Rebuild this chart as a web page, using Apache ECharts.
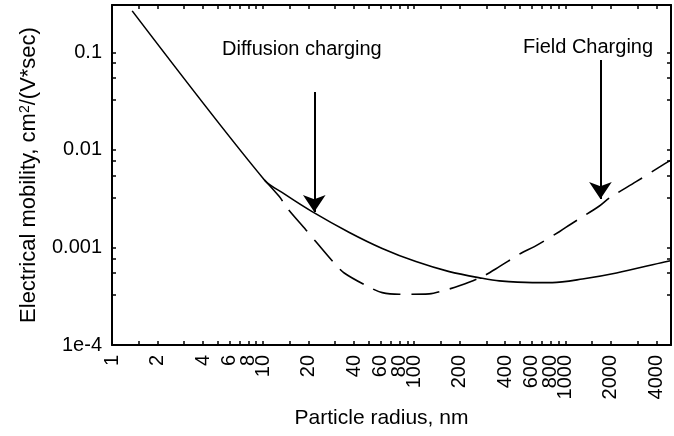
<!DOCTYPE html>
<html>
<head>
<meta charset="utf-8">
<script src="https://cdn.jsdelivr.net/npm/echarts@6/dist/echarts.min.js"></script>
<style>
html, body { margin: 0; padding: 0; background: #fff; }
#chart { width: 674px; height: 436px; }
</style>
</head>
<body>
<div id="chart"></div>
<script>
// values: particle radius in nm, mobility in cm2/(V*sec)
var diffRadius = [1.36, 10.2, 13.8, 21.1, 37.2, 61.4, 102.6, 170.6, 281.8, 365.6, 604, 820, 1297, 2178, 4529, 4960];
var diffMobility = [0.266, 0.00492, 0.00354, 0.00233, 0.001425, 0.000977, 0.000716, 0.000565, 0.000483, 0.000454, 0.000436, 0.000436, 0.000475, 0.000548, 0.00071, 0.00073];

var fieldRadius = [10.2, 12.8, 14.4, 19.2, 22.3, 29.5, 34.4, 50.4, 61.4, 79.6, 125.6, 162, 198.6, 281.8, 365.6, 509, 624, 912, 1091, 1679, 1954, 2938, 4529, 4960];
var fieldMobility = [0.00492, 0.00332, 0.00254, 0.00151, 0.00115, 0.000693, 0.000547, 0.000391, 0.000344, 0.000331, 0.000334, 0.000367, 0.000404, 0.000502, 0.000635, 0.000873, 0.00102, 0.00145, 0.00174, 0.00266, 0.00321, 0.00472, 0.00718, 0.0078];

// arrows: [radius, mobility at tail, mobility at tip]
var diffArrow = [21.8, 0.0392, 0.00231];
var fieldArrow = [1706, 0.0833, 0.00314];

var xRange = [1, 5000];
var yRange = [1e-4, 0.3055];
var xLabelValues = [1, 2, 4, 6, 8, 10, 20, 40, 60, 80, 100, 200, 400, 600, 800, 1000, 2000, 4000];
var xTickSteps = [1, 1.5, 2, 3, 4, 5, 6, 7, 8, 9];
var yLabelValues = [1e-4, 0.001, 0.01, 0.1];
var yLabelTexts = ['1e-4', '0.001', '0.01', '0.1'];
var yTickSteps = [1, 0.773, 0.545, 0.324];

var lg = Math.log10;
var font = 'Arial, "Liberation Sans", sans-serif';

var xTicks = [];
[1, 10, 100, 1000].forEach(function (d) {
    xTickSteps.forEach(function (s) { if (s * d <= 4000) xTicks.push(lg(s * d)); });
});
var yTicks = [];
[0.1, 0.01, 0.001, 1e-4].forEach(function (d) {
    yTickSteps.forEach(function (s) { yTicks.push(lg(s * d)); });
});

function pairs(xs, ys) {
    return xs.map(function (x, i) { return [lg(x), lg(ys[i])]; });
}

function arrow(a) {
    return [[{ coord: [lg(a[0]), lg(a[1])] }, { coord: [lg(a[0]), lg(a[2])] }]];
}

function makeX(pos, show) {
    return {
        type: 'value', position: pos, min: lg(xRange[0]), max: lg(xRange[1]),
        splitLine: { show: false },
        axisLine: { show: true, onZero: false, lineStyle: { color: '#000', width: 2 } },
        axisTick: { show: true, inside: true, length: 4, customValues: xTicks, lineStyle: { color: '#000', width: 1.5 } },
        axisLabel: {
            show: show, customValues: xLabelValues.map(lg), rotate: 90, margin: 10,
            color: '#000', fontSize: 20, fontFamily: font,
            formatter: function (v) { return String(Math.round(Math.pow(10, v))); }
        }
    };
}

function makeY(pos, show) {
    return {
        type: 'value', position: pos, min: lg(yRange[0]), max: lg(yRange[1]),
        splitLine: { show: false },
        axisLine: { show: true, onZero: false, lineStyle: { color: '#000', width: 2 } },
        axisTick: { show: true, inside: true, length: 4, customValues: yTicks, lineStyle: { color: '#000', width: 1.5 } },
        axisLabel: {
            show: show, customValues: yLabelValues.map(lg), margin: 10,
            color: '#000', fontSize: 20, fontFamily: font,
            formatter: function (v) {
                var i = yLabelValues.map(lg).findIndex(function (t) { return Math.abs(t - v) < 1e-6; });
                return i >= 0 ? yLabelTexts[i] : '';
            }
        }
    };
}

var chart = echarts.init(document.getElementById('chart'));

var xBottom = makeX('bottom', true);
xBottom.name = 'Particle radius, nm';
xBottom.nameLocation = 'middle';
xBottom.nameGap = 47;
xBottom.nameTextStyle = { color: '#000', fontSize: 21, fontFamily: font, padding: [0, 20, 0, 0] };

var yLeft = makeY('left', true);
yLeft.name = '{t|Electrical mobility, cm}{s|2}{t|/(V*sec)}';
yLeft.nameLocation = 'middle';
yLeft.nameGap = 72;
yLeft.nameTextStyle = {
    color: '#000', fontFamily: font,
    rich: {
        t: { fontSize: 22, color: '#000', fontFamily: font },
        s: { fontSize: 14, color: '#000', fontFamily: font, verticalAlign: 'top' }
    }
};

var arrowLine = {
    silent: true,
    symbol: ['none', 'arrow'],
    symbolSize: 17,
    label: { show: false },
    emphasis: { disabled: true },
    lineStyle: { color: '#000', width: 2, type: 'solid' }
};

var option = {
    animation: false,
    backgroundColor: '#fff',
    grid: { left: 112, right: 3, top: 5, bottom: 91, containLabel: false },
    xAxis: [xBottom, makeX('top', false)],
    yAxis: [yLeft, makeY('right', false)],
    graphic: [
        { type: 'text', left: 222, top: 39, style: { text: 'Diffusion charging', fill: '#000', font: '20px ' + font } },
        { type: 'text', left: 523, top: 37, style: { text: 'Field Charging', fill: '#000', font: '20px ' + font } }
    ],
    series: [
        {
            name: 'Diffusion charging', type: 'line', data: pairs(diffRadius, diffMobility),
            showSymbol: false, smooth: 0.3,
            lineStyle: { color: '#000', width: 1.6 },
            markLine: Object.assign({ data: arrow(diffArrow) }, arrowLine)
        },
        {
            name: 'Field charging', type: 'line', data: pairs(fieldRadius, fieldMobility),
            showSymbol: false, smooth: 0.3,
            lineStyle: { color: '#000', width: 1.6, type: [28, 11] },
            markLine: Object.assign({ data: arrow(fieldArrow) }, arrowLine)
        }
    ]
};

chart.setOption(option);
</script>
</body>
</html>
